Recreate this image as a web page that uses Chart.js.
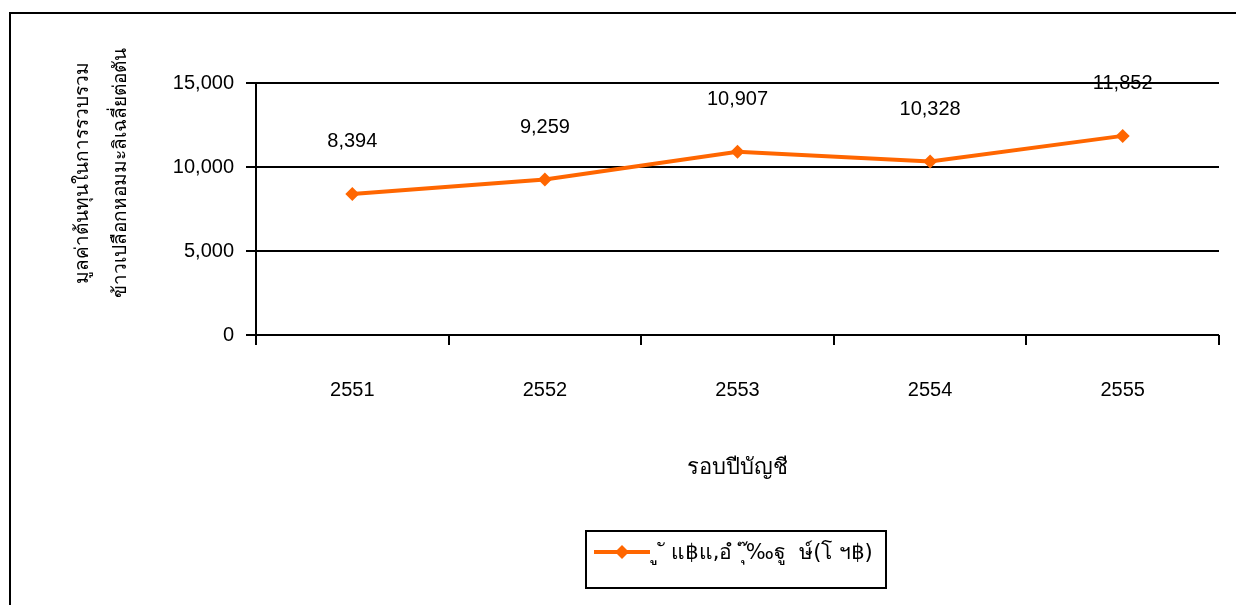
<!DOCTYPE html>
<html>
<head>
<meta charset="utf-8">
<script src="https://cdn.jsdelivr.net/npm/chart.js@4"></script>
<style>
  html, body { margin: 0; padding: 0; background: #fff; }
  #wrap { width: 1236px; height: 605px; position: relative; }
</style>
</head>
<body>
<div id="wrap"><canvas id="c" width="1236" height="605"></canvas></div>
<script>
// Fiscal years and average cost per ton
const years = ['2551', '2552', '2553', '2554', '2555'];
const costPerTon = [8394, 9259, 10907, 10328, 11852];
const yTicks = [0, 5000, 10000, 15000];
const seriesLabel = 'ู ั แ฿แ,อํ  ุ๊‰ฐู  ษ์(โ ฯ฿)';
const yTitleLines = ['มูลค่าต้นทุนในการรวบรวม', 'ข้าวเปลือกหอมมะลิเฉลี่ยต่อตัน'];
const xTitle = 'รอบปีบัญชี';

const FONT = "'Liberation Sans', Arial, sans-serif";
const THAI_FONT = "'DejaVu Sans', 'Noto Sans', sans-serif";
const ORANGE = '#FF6600';

const fmt = v => v.toLocaleString('en-US');

// Outer frame around the whole chart
const framePlugin = {
  id: 'frame',
  beforeDraw(chart) {
    const ctx = chart.ctx;
    ctx.save();
    ctx.strokeStyle = '#000';
    ctx.lineWidth = 2;
    ctx.beginPath();
    ctx.moveTo(10, 640);
    ctx.lineTo(10, 13);
    ctx.lineTo(1260, 13);
    ctx.stroke();
    ctx.restore();
  }
};

// Value labels above each point
const valueLabels = {
  id: 'valueLabels',
  afterDatasetsDraw(chart) {
    const ctx = chart.ctx;
    const meta = chart.getDatasetMeta(0);
    ctx.save();
    ctx.font = '20px ' + FONT;
    ctx.fillStyle = '#000';
    ctx.textAlign = 'center';
    ctx.textBaseline = 'middle';
    meta.data.forEach((pt, i) => {
      ctx.fillText(fmt(chart.data.datasets[0].data[i]), pt.x, pt.y - 52);
    });
    ctx.restore();
  }
};

// Two-line rotated title for the value axis
const yTitlePlugin = {
  id: 'yTitle',
  afterDraw(chart) {
    const ctx = chart.ctx;
    ctx.save();
    ctx.font = '19px ' + THAI_FONT;
    ctx.fillStyle = '#000';
    ctx.textAlign = 'center';
    ctx.textBaseline = 'middle';
    const xs = [83, 121];
    yTitleLines.forEach((t, i) => {
      ctx.save();
      ctx.translate(xs[i], 173);
      ctx.rotate(-Math.PI / 2);
      ctx.fillText(t, 0, 0);
      ctx.restore();
    });
    ctx.restore();
  }
};

// Boxed legend with line-and-diamond sample
const legendBox = {
  id: 'legendBox',
  afterDraw(chart) {
    const ctx = chart.ctx;
    const ds = chart.data.datasets[0];
    ctx.save();
    ctx.strokeStyle = '#000';
    ctx.lineWidth = 2;
    ctx.strokeRect(586, 531, 300, 57);
    ctx.strokeStyle = ds.borderColor;
    ctx.lineWidth = 4;
    ctx.beginPath();
    ctx.moveTo(594, 552);
    ctx.lineTo(650, 552);
    ctx.stroke();
    ctx.fillStyle = ds.backgroundColor;
    ctx.beginPath();
    ctx.moveTo(622, 545);
    ctx.lineTo(629, 552);
    ctx.lineTo(622, 559);
    ctx.lineTo(615, 552);
    ctx.closePath();
    ctx.fill();
    ctx.font = '21px ' + THAI_FONT;
    ctx.fillStyle = '#000';
    ctx.textAlign = 'left';
    ctx.textBaseline = 'middle';
    ctx.fillText(ds.label, 658, 554);
    ctx.restore();
  }
};

new Chart(document.getElementById('c'), {
  type: 'line',
  data: {
    labels: years,
    datasets: [{
      label: seriesLabel,
      data: costPerTon,
      borderColor: ORANGE,
      backgroundColor: ORANGE,
      borderWidth: 4,
      pointStyle: 'rectRot',
      pointRadius: 7,
      pointHoverRadius: 7,
      pointBorderWidth: 0,
      tension: 0
    }]
  },
  options: {
    responsive: false,
    animation: false,
    devicePixelRatio: 1,
    layout: { padding: { left: 0, top: 83, right: 17, bottom: 120 } },
    plugins: { legend: { display: false }, tooltip: { enabled: false } },
    scales: {
      x: {
        offset: true,
        grid: { offset: true, drawOnChartArea: false, color: '#000', lineWidth: 2, tickLength: 10 },
        border: { display: false },
        ticks: { color: '#000', font: { family: FONT, size: 20 }, padding: 33, maxRotation: 0 },
        title: { display: true, text: xTitle, color: '#000', font: { family: THAI_FONT, size: 22 }, padding: { top: 48 } },
        afterFit(s) { s.height = 150; }
      },
      y: {
        min: 0,
        max: 15000,
        afterBuildTicks(s) { s.ticks = yTicks.map(v => ({ value: v })); },
        grid: { color: '#000', lineWidth: 2, tickLength: 10 },
        border: { color: '#000', width: 2 },
        ticks: { color: '#000', font: { family: FONT, size: 20 }, padding: 12, callback: v => fmt(v) },
        afterFit(s) { s.width = 256; }
      }
    }
  },
  plugins: [framePlugin, valueLabels, yTitlePlugin, legendBox]
});
</script>
</body>
</html>
